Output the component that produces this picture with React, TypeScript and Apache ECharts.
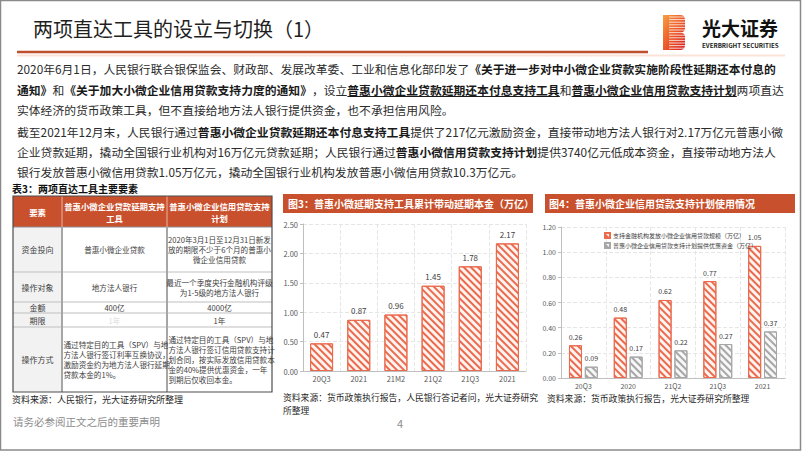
import React, { useEffect, useRef } from 'react';
import * as echarts from 'echarts';

const FONT = '"Noto Sans CJK SC", "Noto Sans", sans-serif';
const RED = '#c9502c';

// ---------- data ----------
const chart3Categories = ['20Q3', '2021', '21M2', '21Q2', '21Q3', '2021'];
const chart3Values = [0.47, 0.87, 0.96, 1.45, 1.78, 2.17];

const chart4Categories = ['20Q3', '2020', '21Q2', '21Q3', '2021'];
const chart4LoanScale = [0.26, 0.48, 0.62, 0.77, 1.05];
const chart4Funding = [0.09, 0.17, 0.22, 0.27, 0.37];
const chart4SeriesNames = [
  '支持金融机构发放小微企业信用贷款规模（万亿）',
  '普惠小微企业信用贷款支持计划提供优惠资金（万亿）',
];

const tableHeader = ['要素', '普惠小微企业贷款延期支持\n工具', '普惠小微企业信用贷款支持\n计划'];
const tableRowLabels = ['资金投向', '操作对象', '金额', '期限', '操作方式'];
const tableCol1 = [
  '普惠小微企业贷款',
  '地方法人银行',
  '400亿',
  '1年',
  '通过特定目的工具（SPV）与地\n方法人银行签订利率互换协议，\n激励资金约为地方法人银行延期\n贷款本金的1%。',
];
const tableCol2 = [
  '2020年3月1日至12月31日新发\n放的期限不少于6个月的普惠小\n微企业信用贷款',
  '最近一个季度央行金融机构评级\n为1-5级的地方法人银行',
  '4000亿',
  '1年',
  '通过特定目的工具（SPV）与地\n方法人银行签订信用贷款支持计\n划合同，按实际发放信用贷款本\n金的40%提供优惠资金，一年\n到期后仅收回本金。',
];

const paragraphLines: [string, string][][] = [
  [
    ['n', '2020年6月1日，人民银行联合银保监会、财政部、发展改革委、工业和信息化部印发了'],
    ['b', '《关于进一步对中小微企业贷款实施阶段性延期还本付息的'],
  ],
  [
    ['b', '通知》'],
    ['n', '和'],
    ['b', '《关于加大小微企业信用贷款支持力度的通知》'],
    ['n', '，设立'],
    ['u', '普惠小微企业贷款延期还本付息支持工具'],
    ['n', '和'],
    ['u', '普惠小微企业信用贷款支持计划'],
    ['n', '两项直达'],
  ],
  [['n', '实体经济的货币政策工具，但不直接给地方法人银行提供资金，也不承担信用风险。']],
  [
    ['n', '截至2021年12月末，人民银行通过'],
    ['b', '普惠小微企业贷款延期还本付息支持工具'],
    ['n', '提供了217亿元激励资金，直接带动地方法人银行对2.17万亿元普惠小微'],
  ],
  [
    ['n', '企业贷款延期，撬动全国银行业机构对16万亿元贷款延期；人民银行通过'],
    ['b', '普惠小微信用贷款支持计划'],
    ['n', '提供3740亿元低成本资金，直接带动地方法人'],
  ],
  [['n', '银行发放普惠小微信用贷款1.05万亿元，撬动全国银行业机构发放普惠小微信用贷款10.3万亿元。']],
];

// ---------- logo shape ----------
let logoRegistered = false;
function registerLogo() {
  if (logoRegistered) return;
  logoRegistered = true;
  const d =
    'M0,0 L17,0 Q22,0 22,5 L22,13 Q22,17 18,17.5 Q22,18 22,22 L22,30 Q22,35 17,35 L0,35 Z';
  echarts.graphic.registerShape('ebLogo', echarts.graphic.extendPath(d, {}) as any);
}

function txt(x: number, y: number, text: string, o: any = {}) {
  const align = o.align || 'left';
  const va = o.va || 'middle';
  return {
    type: 'text',
    x,
    y,
    z: o.z ?? 100,
    style: {
      text,
      fill: o.fill || '#333',
      fontSize: o.fontSize || 12,
      fontFamily: FONT,
      fontWeight: o.fontWeight || 'normal',
      align,
      textAlign: align,
      verticalAlign: va,
      textVerticalAlign: va,
      lineHeight: o.lineHeight,
      rich: o.rich,
    },
  };
}

function line(x1: number, y1: number, x2: number, y2: number, stroke: string, lineWidth = 1, z = 90) {
  return { type: 'line', z, shape: { x1, y1, x2, y2 }, style: { stroke, lineWidth } };
}

function rect(x: number, y: number, width: number, height: number, style: any, z = 80) {
  return { type: 'rect', z, shape: { x, y, width, height }, style };
}

function buildGraphics() {
  const els: any[] = [];
  // slide frame
  els.push(rect(0.5, 0.5, 800, 449.5, { fill: 'none', stroke: '#8a8a8a', lineWidth: 1.5 }, 200));

  // title
  els.push(txt(33, 28, '两项直达工具的设立与切换（1）', { fontSize: 20, fill: '#1f1f1f' }));
  els.push(line(17, 52, 648, 52, '#c0502d', 2.5));
  els.push(line(17, 55.5, 785, 55.5, '#fbe3da', 2));

  // logo
  els.push({
    type: 'ebLogo',
    x: 663,
    y: 15,
    z: 90,
    style: {
      fill: new echarts.graphic.LinearGradient(0, 0, 1, 1, [
        { offset: 0, color: '#f6a040' },
        { offset: 0.5, color: '#ec5a2a' },
        { offset: 1, color: '#d61a1f' },
      ]),
    },
  });
  for (let yy = 17; yy < 50; yy += 2.6) {
    els.push(line(669, yy, 686, yy, 'rgba(255,255,255,0.85)', 0.9, 95));
  }
  els.push(txt(702, 27, '光大证券', { fontSize: 19, fontWeight: 'bold', fill: '#111' }));
  els.push(txt(702, 45, 'EVERBRIGHT SECURITIES', { fontSize: 6.2, fontWeight: 'bold', fill: '#222' }));

  // paragraphs
  const fs = 11.8;
  const rich = {
    n: { fontSize: fs, fontFamily: FONT, fill: '#2b2b2b', color: '#2b2b2b' },
    b: { fontSize: fs, fontFamily: FONT, fontWeight: 'bold', fill: '#1a1a1a', color: '#1a1a1a' },
    u: { fontSize: fs, fontFamily: FONT, fontWeight: 'bold', fill: '#1a1a1a', color: '#1a1a1a' },
  };
  const lineYs = [68, 89, 109, 131, 151, 171];
  paragraphLines.forEach((segs, i) => {
    const s = segs.map(([k, t]) => `{${k}|${t}}`).join('');
    els.push(txt(17, lineYs[i], s, { rich, fontSize: fs }));
    let pos = 0;
    segs.forEach(([k, t]) => {
      const w = t.length * fs;
      if (k === 'u') {
        els.push(line(17 + pos, lineYs[i] + 7.5, 17 + pos + w, lineYs[i] + 7.5, '#1a1a1a', 1));
      }
      pos += w;
    });
  });

  // table
  els.push(txt(12, 188, '表3：两项直达工具主要要素', { fontSize: 10, fontWeight: 'bold', fill: '#111' }));
  const colX = [13, 62, 167, 272];
  const rowY = [196, 227, 272, 302, 313, 327, 392];
  els.push(rect(colX[0], rowY[0], colX[3] - colX[0], rowY[1] - rowY[0], { fill: RED }));
  tableHeader.forEach((h, c) => {
    els.push(
      txt((colX[c] + colX[c + 1]) / 2, (rowY[0] + rowY[1]) / 2, h, {
        align: 'center',
        fontSize: 8.4,
        fontWeight: 'bold',
        fill: '#fff',
        lineHeight: 12,
      })
    );
  });
  tableRowLabels.forEach((lab, r) => {
    const y0 = rowY[r + 1];
    const y1 = rowY[r + 2];
    const cy = (y0 + y1) / 2;
    els.push(rect(colX[0], y0, colX[1] - colX[0], y1 - y0, { fill: '#f2f2f2' }));
    els.push(txt((colX[0] + colX[1]) / 2, cy, lab, { align: 'center', fontSize: 8, fill: '#404040' }));
    const vals = [tableCol1[r], tableCol2[r]];
    vals.forEach((v, c) => {
      const left = r === 4;
      const x = left ? colX[c + 1] + 1.5 : (colX[c + 1] + colX[c + 2]) / 2;
      els.push(
        txt(x, cy, v, {
          align: left ? 'left' : 'center',
          fontSize: 7.6,
          lineHeight: 10,
          fill: r === 3 && c === 0 ? '#dcdcdc' : '#404040',
        })
      );
    });
  });
  for (let r = 2; r < rowY.length - 1; r++) {
    els.push(line(colX[0], rowY[r], colX[3], rowY[r], '#bfbfbf', 1));
  }
  els.push(line(colX[0], rowY[1], colX[3], rowY[1], '#8c8c8c', 1));
  els.push(line(colX[1], rowY[0], colX[1], rowY[1], '#e8b3a3', 1));
  els.push(line(colX[2], rowY[0], colX[2], rowY[1], '#e8b3a3', 1));
  els.push(line(colX[1], rowY[1], colX[1], rowY[6], '#a6a6a6', 2));
  els.push(line(colX[2], rowY[1], colX[2], rowY[6], '#a6a6a6', 2));
  els.push(rect(colX[0], rowY[0], colX[3] - colX[0], rowY[6] - rowY[0], { fill: 'none', stroke: '#4d4d4d', lineWidth: 1.2 }, 95));
  els.push(txt(12, 399, '资料来源：人民银行，光大证券研究所整理', { fontSize: 9, fill: '#262626' }));

  // chart titles
  els.push(rect(283, 194, 250, 19, { fill: RED }));
  els.push(txt(288, 203.5, '图3：普惠小微延期支持工具累计带动延期本金（万亿）', { fontSize: 10, fontWeight: 'bold', fill: '#fff' }));
  els.push(rect(545, 194, 250, 19, { fill: RED }));
  els.push(txt(549, 203.5, '图4：普惠小微企业信用贷款支持计划使用情况', { fontSize: 10, fontWeight: 'bold', fill: '#fff' }));

  els.push(txt(283, 397, '资料来源：货币政策执行报告，人民银行答记者问，光大证券研究', { fontSize: 8.8, fill: '#262626' }));
  els.push(txt(283, 410, '所整理', { fontSize: 8.8, fill: '#262626' }));
  els.push(txt(547, 398, '资料来源：货币政策执行报告，光大证券研究所整理', { fontSize: 8.8, fill: '#262626' }));

  // footer
  els.push(txt(13, 421, '请务必参阅正文之后的重要声明', { fontSize: 10.5, fill: '#8c8c8c' }));
  els.push(txt(400, 423, '4', { fontSize: 11, fill: '#8c8c8c', align: 'center' }));
  return els;
}

const redDecal = {
  symbol: 'rect',
  symbolSize: 1,
  color: '#ea6a4e',
  dashArrayX: [1, 0],
  dashArrayY: [2, 2.2],
  rotation: Math.PI / 4,
};
const grayDecal = { ...redDecal, color: '#a6a6a6' };

function axisCommon(fontSize: number) {
  return {
    axisLine: { show: true, lineStyle: { color: '#bfbfbf', width: 1 } },
    axisLabel: { fontSize, color: '#595959', fontFamily: FONT, margin: 4 },
    splitLine: { show: true, lineStyle: { color: '#e6e6e6', type: 'dashed' } },
  };
}

export default function App() {
  const ref = useRef<HTMLDivElement>(null);
  useEffect(() => {
    if (!ref.current) return;
    registerLogo();
    const chart = echarts.init(ref.current, undefined, { renderer: 'svg' });
    const fmt2 = (v: number) => v.toFixed(2);
    chart.setOption({
      animation: false,
      backgroundColor: '#fff',
      textStyle: { fontFamily: FONT },
      grid: [
        { left: 303, top: 224, width: 223, height: 147 },
        { left: 561, top: 227, width: 224, height: 151 },
      ],
      legend: {
        data: chart4SeriesNames,
        left: 604,
        top: 232,
        orient: 'vertical',
        itemWidth: 5,
        itemHeight: 5,
        itemGap: 3,
        padding: 0,
        icon: 'rect',
        textStyle: { fontSize: 6, color: '#404040', fontFamily: FONT, padding: [0, 0, 0, -2] },
      },
      xAxis: [
        {
          type: 'category',
          gridIndex: 0,
          data: chart3Categories,
          ...axisCommon(7.5),
          axisTick: { show: false },
        },
        {
          type: 'category',
          gridIndex: 1,
          data: chart4Categories,
          ...axisCommon(7),
          axisTick: { show: false },
        },
      ],
      yAxis: [
        {
          type: 'value',
          gridIndex: 0,
          min: 0,
          max: 2.5,
          interval: 0.5,
          ...axisCommon(7.5),
          axisTick: { show: true, length: 3, lineStyle: { color: '#bfbfbf' } },
          axisLabel: { fontSize: 7.5, color: '#595959', fontFamily: FONT, formatter: fmt2, margin: 5 },
        },
        {
          type: 'value',
          gridIndex: 1,
          min: 0,
          max: 1.2,
          interval: 0.2,
          ...axisCommon(7),
          axisTick: { show: true, length: 3, lineStyle: { color: '#bfbfbf' } },
          axisLabel: { fontSize: 7, color: '#595959', fontFamily: FONT, formatter: fmt2, margin: 5 },
        },
      ],
      series: [
        {
          type: 'bar',
          xAxisIndex: 0,
          yAxisIndex: 0,
          data: chart3Values,
          barWidth: 23,
          itemStyle: { color: '#fff3ef', borderColor: '#ea6a4e', borderWidth: 1, decal: redDecal },
          label: {
            show: true,
            position: 'top',
            distance: 5,
            fontSize: 8,
            color: '#404040',
            fontFamily: FONT,
            formatter: (p: any) => fmt2(p.value),
          },
        },
        {
          name: chart4SeriesNames[0],
          type: 'bar',
          xAxisIndex: 1,
          yAxisIndex: 1,
          data: chart4LoanScale,
          barWidth: 13,
          barGap: '22%',
          itemStyle: { color: '#fff3ef', borderColor: '#ea6a4e', borderWidth: 1, decal: redDecal },
          label: {
            show: true,
            position: 'top',
            distance: 5,
            fontSize: 7,
            color: '#404040',
            fontFamily: FONT,
            formatter: (p: any) => fmt2(p.value),
          },
        },
        {
          name: chart4SeriesNames[1],
          type: 'bar',
          xAxisIndex: 1,
          yAxisIndex: 1,
          data: chart4Funding,
          barWidth: 13,
          barGap: '22%',
          itemStyle: { color: '#f7f7f7', borderColor: '#a6a6a6', borderWidth: 1, decal: grayDecal },
          label: {
            show: true,
            position: 'top',
            distance: 5,
            fontSize: 7,
            color: '#404040',
            fontFamily: FONT,
            formatter: (p: any) => fmt2(p.value),
          },
        },
      ],
      graphic: { elements: buildGraphics() },
    });
    return () => chart.dispose();
  }, []);
  return (
    <div
      ref={ref}
      style={{ position: 'fixed', left: 0, top: 0, width: 802, height: 451, background: '#fff' }}
    />
  );
}
